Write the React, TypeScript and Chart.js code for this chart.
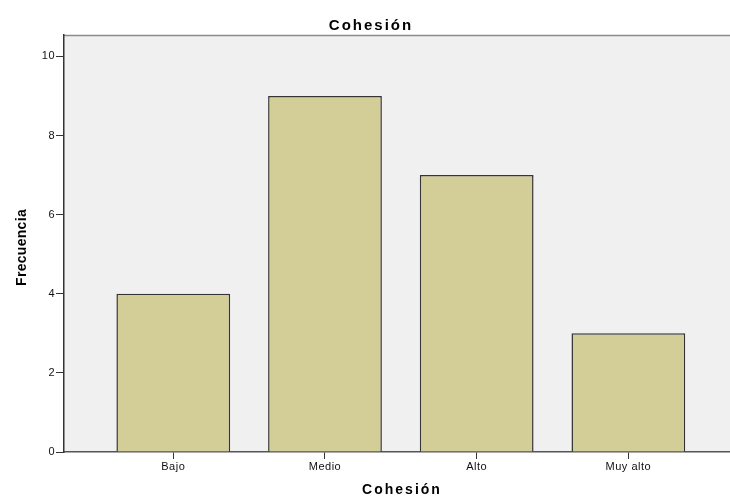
import React, { useEffect, useRef } from "react";
import { Chart, registerables } from "chart.js";

Chart.register(...registerables);

const TITLE = "Cohesión";
const X_TITLE = "Cohesión";
const Y_TITLE = "Frecuencia";
const categories = ["Bajo", "Medio", "Alto", "Muy alto"];
const positions = [1, 2, 3, 4];
const frecuencia = [4, 9, 7, 3];
const yTicks = [0, 2, 4, 6, 8, 10];

const FONT = '"Liberation Sans", Arial, sans-serif';

const decor = {
  id: "decor",
  beforeDraw(chart: any) {
    const { ctx, chartArea: a } = chart;
    ctx.save();
    ctx.fillStyle = "#ffffff";
    ctx.fillRect(0, 0, chart.width, chart.height);
    ctx.fillStyle = "#f0f0f0";
    ctx.fillRect(a.left, a.top, a.right - a.left, a.bottom - a.top);
    ctx.strokeStyle = "#8a8a8a";
    ctx.lineWidth = 1.5;
    ctx.beginPath();
    ctx.moveTo(a.left, a.top + 0.5);
    ctx.lineTo(a.right, a.top + 0.5);
    ctx.stroke();
    ctx.restore();
    ctx.letterSpacing = "0.5px";
  },
  afterDraw(chart: any) {
    const { ctx, chartArea: a } = chart;
    ctx.save();
    ctx.fillStyle = "#000000";
    ctx.textAlign = "center";
    ctx.textBaseline = "alphabetic";
    ctx.font = `bold 15px ${FONT}`;
    ctx.letterSpacing = "2px";
    ctx.fillText(TITLE, chart.width / 2 + 6, a.top - 5);
    ctx.font = `bold 14px ${FONT}`;
    ctx.fillText(X_TITLE, (a.left + a.right) / 2 + 5, chart.height - 3);
    ctx.letterSpacing = "0.3px";
    ctx.translate(25.5, (a.top + a.bottom) / 2 + 4);
    ctx.rotate(-Math.PI / 2);
    ctx.fillText(Y_TITLE, 0, 0);
    ctx.restore();
  },
};

export default function App() {
  const ref = useRef<HTMLCanvasElement | null>(null);
  useEffect(() => {
    if (!ref.current) return;
    const chart = new Chart(ref.current, {
      type: "bar",
      data: {
        datasets: [
          {
            label: Y_TITLE,
            data: positions.map((x, i) => ({ x, y: frecuencia[i] })),
            backgroundColor: "#d3ce98",
            borderColor: "#353535",
            borderWidth: 1.5,
            categoryPercentage: 1,
            barPercentage: 0.75,
          },
        ],
      },
      options: {
        responsive: false,
        animation: false,
        layout: { padding: { top: 35, left: 0, right: 0, bottom: 0 } },
        plugins: {
          legend: { display: false },
          title: { display: false },
          tooltip: { enabled: false },
        },
        scales: {
          x: {
            type: "linear",
            offset: false,
            min: 0.2795,
            max: 4.67,
            afterFit: (s: any) => {
              s.height = 45;
            },
            afterBuildTicks: (s: any) => {
              s.ticks = positions.map((v) => ({ value: v }));
            },
            ticks: {
              callback: (_v: any, i: number) => categories[i],
              font: { family: FONT, size: 11 },
              color: "#111",
              padding: 1,
              maxRotation: 0,
              autoSkip: false,
            },
            grid: {
              offset: false,
              drawOnChartArea: false,
              drawTicks: true,
              tickLength: 7,
              color: "#333",
            },
            border: { display: true, color: "#555", width: 1.5 },
          },
          y: {
            type: "linear",
            min: 0,
            max: 10.54,
            afterFit: (s: any) => {
              s.width = 64;
            },
            afterBuildTicks: (s: any) => {
              s.ticks = yTicks.map((v) => ({ value: v }));
            },
            ticks: {
              font: { family: FONT, size: 11 },
              color: "#111",
              padding: 1,
            },
            grid: {
              drawOnChartArea: false,
              drawTicks: true,
              tickLength: 8,
              color: "#333",
            },
            border: { display: true, color: "#333", width: 1.5 },
          },
        },
      },
      plugins: [decor],
    });
    return () => chart.destroy();
  }, []);
  return (
    <div style={{ position: "absolute", left: 0, top: 0, width: 730, height: 497 }}>
      <canvas ref={ref} width={730} height={497} />
    </div>
  );
}
